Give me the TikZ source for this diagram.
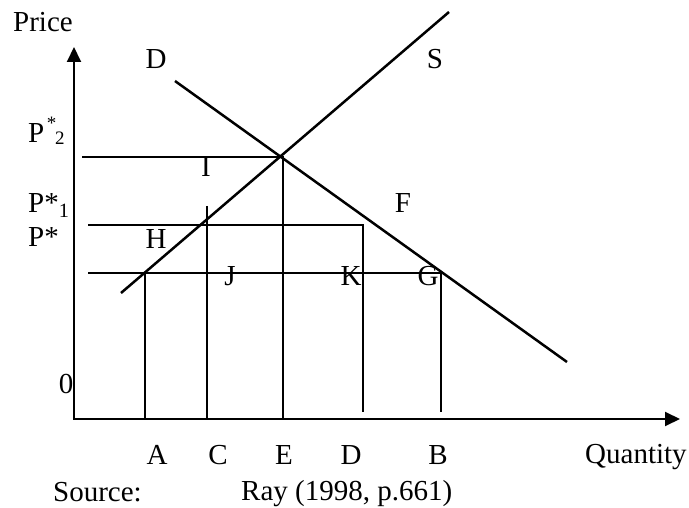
\documentclass[tikz,border=0pt]{standalone}
\usepackage{fontspec}
\setmainfont{Liberation Serif}
\usetikzlibrary{arrows.meta}
\tikzset{
    schedule/.style={line width=2.5pt, black},
    guide/.style={line width=1.9pt, black},
    axis/.style={line width=2pt, black, {Triangle[length=15pt,width=14pt]}-{Triangle[length=15pt,width=14pt]}},
    lbl/.style={font=\fontsize{29}{33}\selectfont, inner sep=0pt},
    smalllbl/.style={font=\fontsize{19}{22}\selectfont, inner sep=0pt}
}

\begin{document}
\begin{tikzpicture}[x=1pt,y=-1pt]
    \useasboundingbox (0,0) rectangle (689,508);
    \coordinate (ytip) at (74,47);
    \coordinate (origin) at (74,419);
    \coordinate (xtip) at (680,419);
    \coordinate (s0) at (121,293);
    \coordinate (s1) at (449,12);
    \coordinate (d0) at (175,81);
    \coordinate (d1) at (567,362);
    \coordinate (eq) at (283,157);
    \coordinate (g) at (441,273);
    \coordinate (k) at (363,225);
    \draw[axis] (ytip) -- (origin) -- (xtip);
    \draw[schedule] (s0) -- (s1);
    \draw[schedule] (d0) -- (d1);
    \draw[guide] (82,157) -- (eq) -- (eq |- origin);
    \draw[guide] (88,225) -- (k) -- (363,412);
    \draw[guide] (88,273) -- (g) -- (441,412);
    \draw[guide] (145,273) -- (145,419);
    \draw[guide] (207,206) -- (207,419);
    \node[lbl, anchor=base west] (price) at (13,32) {Price};
    \node[lbl, anchor=base west] (pstar2) at (28,143) {P};
    \node[smalllbl, anchor=north] (star2) at (51.5,117) {*};
    \node[smalllbl, anchor=base west] (sub2) at (55,145) {2};
    \node[lbl, anchor=base west] (pstar1) at (28,213) {P*\textsubscript{1}};
    \node[lbl, anchor=base west] (pstar) at (28,247) {P*};
    \node[lbl, anchor=base] (zero) at (66,393) {0};
    \node[lbl, anchor=base] (dlab) at (156,69) {D};
    \node[lbl, anchor=base] (slab) at (435,69) {S};
    \node[lbl, anchor=base] (ilab) at (206,177) {I};
    \node[lbl, anchor=base] (flab) at (403,213) {F};
    \node[lbl, anchor=base] (hlab) at (156,249) {H};
    \node[lbl, anchor=base] (jlab) at (230,285) {J};
    \node[lbl, anchor=base] (klab) at (351,285) {K};
    \node[lbl, anchor=base] (glab) at (428,285) {G};
    \foreach \q/\x in {A/157,C/218,E/284,D/351,B/438}
        \node[lbl, anchor=base] (q\q) at (\x,464) {\q};
    \node[lbl, anchor=base west] (qty) at (585,463) {Quantity};
    \node[lbl, anchor=base west] (src) at (53,501) {Source:};
    \node[lbl, anchor=base west] (ray) at (241,500) {Ray (1998, p.661)};
\end{tikzpicture}
\end{document}
